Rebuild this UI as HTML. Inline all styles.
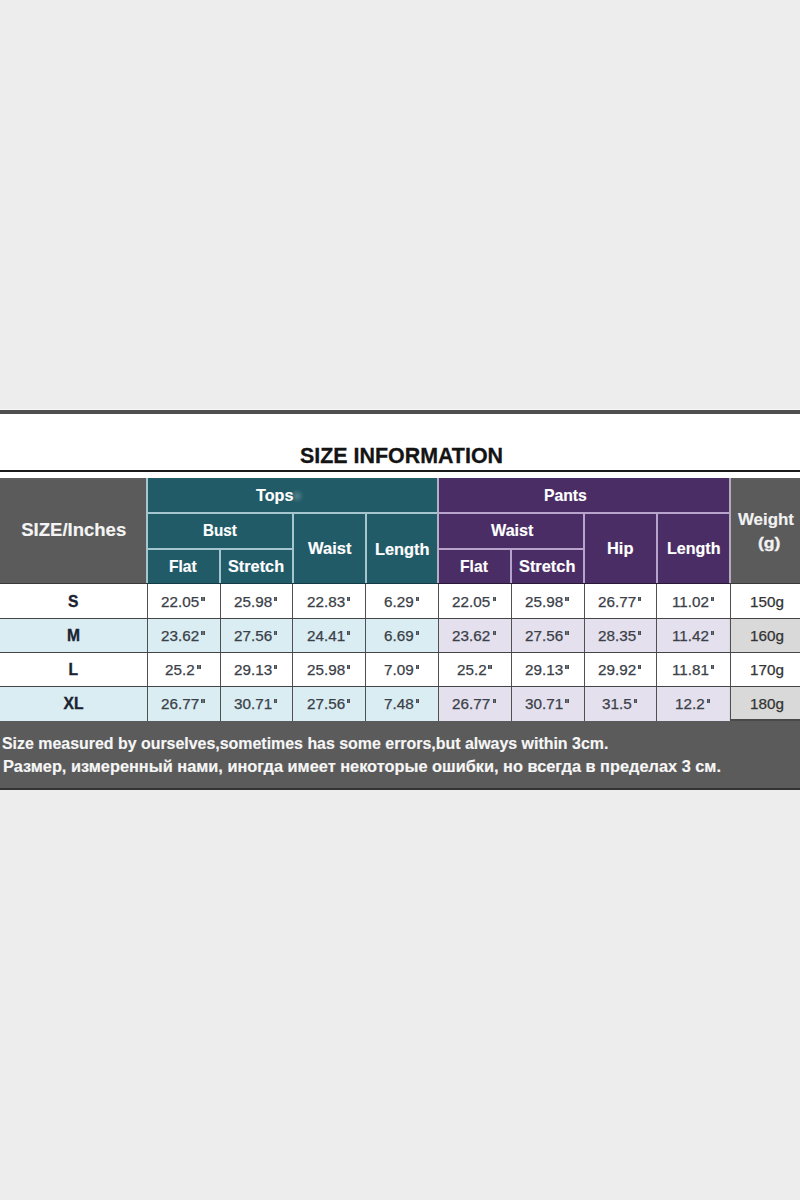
<!DOCTYPE html><html><head><meta charset="utf-8"><style>
html,body{margin:0;padding:0;}
body{width:800px;height:1200px;position:relative;overflow:hidden;background:#ededed;font-family:"Liberation Sans",sans-serif;}
div{box-sizing:border-box}
</style></head><body><div style="position:absolute;left:0px;top:409px;width:800px;height:1px;background:#f8f8f8"></div>
<div style="position:absolute;left:0px;top:410px;width:800px;height:4px;background:#4f4f4f"></div>
<div style="position:absolute;left:0px;top:414px;width:800px;height:307px;background:#ffffff"></div>
<div style="position:absolute;left:0px;top:470px;width:800px;height:2px;background:#1a1a1a"></div>
<div style="position:absolute;left:0px;top:478px;width:147px;height:106px;background:#5b5b5b"></div>
<div style="position:absolute;left:147px;top:478px;width:291px;height:106px;background:#215b67"></div>
<div style="position:absolute;left:438px;top:478px;width:291px;height:106px;background:#4a2d65"></div>
<div style="position:absolute;left:729px;top:478px;width:71px;height:106px;background:#5b5b5b"></div>
<div style="position:absolute;left:0px;top:618px;width:438px;height:34px;background:#d9edf2"></div>
<div style="position:absolute;left:438px;top:618px;width:291px;height:34px;background:#e4e0ee"></div>
<div style="position:absolute;left:729px;top:618px;width:71px;height:34px;background:#d9d9d9"></div>
<div style="position:absolute;left:0px;top:686px;width:438px;height:35px;background:#d9edf2"></div>
<div style="position:absolute;left:438px;top:686px;width:291px;height:35px;background:#e4e0ee"></div>
<div style="position:absolute;left:729px;top:686px;width:71px;height:35px;background:#d9d9d9"></div>
<div style="position:absolute;left:146px;top:478px;width:2px;height:106px;background:#a6c6cf"></div>
<div style="position:absolute;left:148px;top:512px;width:290px;height:2px;background:#a6c6cf"></div>
<div style="position:absolute;left:148px;top:548px;width:144px;height:2px;background:#a6c6cf"></div>
<div style="position:absolute;left:219px;top:549px;width:2px;height:35px;background:#a6c6cf"></div>
<div style="position:absolute;left:292px;top:513px;width:1.5px;height:71px;background:#a6c6cf"></div>
<div style="position:absolute;left:365px;top:513px;width:1.5px;height:71px;background:#a6c6cf"></div>
<div style="position:absolute;left:437px;top:478px;width:2px;height:106px;background:#b6aec6"></div>
<div style="position:absolute;left:439px;top:512px;width:290px;height:2px;background:#b7a3cc"></div>
<div style="position:absolute;left:439px;top:548px;width:145px;height:2px;background:#b7a3cc"></div>
<div style="position:absolute;left:510px;top:549px;width:2px;height:35px;background:#b7a3cc"></div>
<div style="position:absolute;left:583px;top:513px;width:2px;height:71px;background:#b7a3cc"></div>
<div style="position:absolute;left:656px;top:513px;width:1.5px;height:71px;background:#b7a3cc"></div>
<div style="position:absolute;left:729px;top:478px;width:2px;height:106px;background:#b3aabb"></div>
<div style="position:absolute;left:147px;top:583px;width:291px;height:1px;background:#143c44"></div>
<div style="position:absolute;left:438px;top:583px;width:291px;height:1px;background:#2a1a3a"></div>
<div style="position:absolute;left:0px;top:583px;width:147px;height:1px;background:#3a3a3a"></div>
<div style="position:absolute;left:729px;top:583px;width:71px;height:1px;background:#3a3a3a"></div>
<div style="position:absolute;left:147px;top:584px;width:1px;height:137px;background:#505050"></div>
<div style="position:absolute;left:220px;top:584px;width:1px;height:137px;background:#505050"></div>
<div style="position:absolute;left:292px;top:584px;width:1px;height:137px;background:#505050"></div>
<div style="position:absolute;left:365px;top:584px;width:1px;height:137px;background:#505050"></div>
<div style="position:absolute;left:438px;top:584px;width:1px;height:137px;background:#505050"></div>
<div style="position:absolute;left:511px;top:584px;width:1px;height:137px;background:#505050"></div>
<div style="position:absolute;left:584px;top:584px;width:1px;height:137px;background:#505050"></div>
<div style="position:absolute;left:656px;top:584px;width:1px;height:137px;background:#505050"></div>
<div style="position:absolute;left:730px;top:584px;width:1px;height:137px;background:#505050"></div>
<div style="position:absolute;left:0px;top:618px;width:800px;height:1px;background:#454545"></div>
<div style="position:absolute;left:0px;top:652px;width:800px;height:1px;background:#454545"></div>
<div style="position:absolute;left:0px;top:686px;width:800px;height:1px;background:#454545"></div>
<div style="position:absolute;left:730px;top:719px;width:70px;height:2px;background:#4a4a4a"></div>
<div style="position:absolute;left:0px;top:721px;width:800px;height:68px;background:#5b5b5b"></div>
<div style="position:absolute;left:0px;top:788px;width:800px;height:2px;background:#333"></div>
<div style="position:absolute;left:290px;top:489px;width:14px;height:14px;border-radius:50%;background:radial-gradient(circle,rgba(200,220,225,0.28) 0%,rgba(200,220,225,0) 70%)"></div>
<div style="position:absolute;left:299.59px;top:444.59px;font-size:21.16px;line-height:21.16px;font-weight:bold;color:#141414;white-space:nowrap;transform-origin:0 0;transform:scaleX(1.0121);-webkit-text-stroke:0.3px #141414">SIZE INFORMATION</div>
<div style="position:absolute;left:21.20px;top:521.10px;font-size:18.55px;line-height:18.55px;font-weight:bold;color:#f4f4f4;white-space:nowrap;transform-origin:0 0;transform:scaleX(1.0000);-webkit-text-stroke:0.15px #f4f4f4">SIZE/Inches</div>
<div style="position:absolute;left:255.60px;top:487.09px;font-size:16.2px;line-height:16.2px;font-weight:bold;color:#ffffff;white-space:nowrap;transform-origin:0 0;transform:scaleX(0.9973);-webkit-text-stroke:0.15px #ffffff">Tops</div>
<div style="position:absolute;left:543.78px;top:487.09px;font-size:16.2px;line-height:16.2px;font-weight:bold;color:#ffffff;white-space:nowrap;transform-origin:0 0;transform:scaleX(0.9726);-webkit-text-stroke:0.15px #ffffff">Pants</div>
<div style="position:absolute;left:203.46px;top:521.59px;font-size:16.2px;line-height:16.2px;font-weight:bold;color:#ffffff;white-space:nowrap;transform-origin:0 0;transform:scaleX(0.9386);-webkit-text-stroke:0.15px #ffffff">Bust</div>
<div style="position:absolute;left:490.60px;top:521.59px;font-size:16.2px;line-height:16.2px;font-weight:bold;color:#ffffff;white-space:nowrap;transform-origin:0 0;transform:scaleX(0.9976);-webkit-text-stroke:0.15px #ffffff">Waist</div>
<div style="position:absolute;left:307.50px;top:540.49px;font-size:16.2px;line-height:16.2px;font-weight:bold;color:#ffffff;white-space:nowrap;transform-origin:0 0;transform:scaleX(1.0190);-webkit-text-stroke:0.15px #ffffff">Waist</div>
<div style="position:absolute;left:374.99px;top:540.59px;font-size:16.2px;line-height:16.2px;font-weight:bold;color:#ffffff;white-space:nowrap;transform-origin:0 0;transform:scaleX(1.0115);-webkit-text-stroke:0.15px #ffffff">Length</div>
<div style="position:absolute;left:607.39px;top:540.49px;font-size:16.2px;line-height:16.2px;font-weight:bold;color:#ffffff;white-space:nowrap;transform-origin:0 0;transform:scaleX(1.0140);-webkit-text-stroke:0.15px #ffffff">Hip</div>
<div style="position:absolute;left:666.91px;top:540.49px;font-size:16.2px;line-height:16.2px;font-weight:bold;color:#ffffff;white-space:nowrap;transform-origin:0 0;transform:scaleX(0.9923);-webkit-text-stroke:0.15px #ffffff">Length</div>
<div style="position:absolute;left:738.25px;top:510.79px;font-size:16.2px;line-height:16.2px;font-weight:bold;color:#f2f2f2;white-space:nowrap;transform-origin:0 0;transform:scaleX(1.0425);-webkit-text-stroke:0.15px #f2f2f2">Weight</div>
<div style="position:absolute;left:169.19px;top:558.34px;font-size:16.2px;line-height:16.2px;font-weight:bold;color:#ffffff;white-space:nowrap;transform-origin:0 0;transform:scaleX(0.9625);-webkit-text-stroke:0.15px #ffffff">Flat</div>
<div style="position:absolute;left:228.09px;top:558.34px;font-size:16.2px;line-height:16.2px;font-weight:bold;color:#ffffff;white-space:nowrap;transform-origin:0 0;transform:scaleX(1.0056);-webkit-text-stroke:0.15px #ffffff">Stretch</div>
<div style="position:absolute;left:460.43px;top:558.09px;font-size:16.2px;line-height:16.2px;font-weight:bold;color:#ffffff;white-space:nowrap;transform-origin:0 0;transform:scaleX(0.9679);-webkit-text-stroke:0.15px #ffffff">Flat</div>
<div style="position:absolute;left:518.99px;top:558.09px;font-size:16.2px;line-height:16.2px;font-weight:bold;color:#ffffff;white-space:nowrap;transform-origin:0 0;transform:scaleX(1.0111);-webkit-text-stroke:0.15px #ffffff">Stretch</div>
<div style="position:absolute;left:2.38px;top:735.99px;font-size:15.6px;line-height:15.6px;font-weight:bold;color:#f6f6f6;white-space:nowrap;transform-origin:0 0;transform:scaleX(1.0213);-webkit-text-stroke:0.15px #f6f6f6">Size measured by ourselves,sometimes has some errors,but always within 3cm.</div>
<div style="position:absolute;left:3.05px;top:759.29px;font-size:15.6px;line-height:15.6px;font-weight:bold;color:#f6f6f6;white-space:nowrap;transform-origin:0 0;transform:scaleX(1.0482);-webkit-text-stroke:0.15px #f6f6f6">Размер, измеренный нами, иногда имеет некоторые ошибки, но всегда в пределах 3 см.</div>
<div style="position:absolute;left:758.23px;top:534.80px;font-size:15px;line-height:15px;font-weight:bold;color:#f2f2f2;white-space:nowrap;transform-origin:0 0;transform:scaleX(1.1722);-webkit-text-stroke:0.3px #f2f2f2">(g)</div>
<div style="position:absolute;left:68.00px;top:593.79px;font-size:15.6px;line-height:15.6px;font-weight:bold;color:#1b2331;white-space:nowrap;transform-origin:0 0;transform:scaleX(1.0000);-webkit-text-stroke:0.35px #1b2331">S</div>
<div style="position:absolute;left:161.22px;top:595.23px;font-size:14.5px;line-height:14.5px;font-weight:normal;color:#3b4048;white-space:nowrap;transform-origin:0 0;transform:scaleX(1.0500);-webkit-text-stroke:0.25px #3b4048">22.05</div>
<div style="position:absolute;left:201.33px;top:597.00px;width:3.4px;height:3.8px;border-left:1.4px solid #4a4d52;border-right:1.4px solid #4a4d52;background:#6a6d72"></div>
<div style="position:absolute;left:233.97px;top:595.23px;font-size:14.5px;line-height:14.5px;font-weight:normal;color:#3b4048;white-space:nowrap;transform-origin:0 0;transform:scaleX(1.0500);-webkit-text-stroke:0.25px #3b4048">25.98</div>
<div style="position:absolute;left:274.07px;top:597.00px;width:3.4px;height:3.8px;border-left:1.4px solid #4a4d52;border-right:1.4px solid #4a4d52;background:#6a6d72"></div>
<div style="position:absolute;left:306.72px;top:595.23px;font-size:14.5px;line-height:14.5px;font-weight:normal;color:#3b4048;white-space:nowrap;transform-origin:0 0;transform:scaleX(1.0500);-webkit-text-stroke:0.25px #3b4048">22.83</div>
<div style="position:absolute;left:346.82px;top:597.00px;width:3.4px;height:3.8px;border-left:1.4px solid #4a4d52;border-right:1.4px solid #4a4d52;background:#6a6d72"></div>
<div style="position:absolute;left:383.93px;top:595.23px;font-size:14.5px;line-height:14.5px;font-weight:normal;color:#3b4048;white-space:nowrap;transform-origin:0 0;transform:scaleX(1.0500);-webkit-text-stroke:0.25px #3b4048">6.29</div>
<div style="position:absolute;left:415.63px;top:597.00px;width:3.4px;height:3.8px;border-left:1.4px solid #4a4d52;border-right:1.4px solid #4a4d52;background:#6a6d72"></div>
<div style="position:absolute;left:452.47px;top:595.23px;font-size:14.5px;line-height:14.5px;font-weight:normal;color:#3b4048;white-space:nowrap;transform-origin:0 0;transform:scaleX(1.0500);-webkit-text-stroke:0.25px #3b4048">22.05</div>
<div style="position:absolute;left:492.57px;top:597.00px;width:3.4px;height:3.8px;border-left:1.4px solid #4a4d52;border-right:1.4px solid #4a4d52;background:#6a6d72"></div>
<div style="position:absolute;left:525.23px;top:595.23px;font-size:14.5px;line-height:14.5px;font-weight:normal;color:#3b4048;white-space:nowrap;transform-origin:0 0;transform:scaleX(1.0500);-webkit-text-stroke:0.25px #3b4048">25.98</div>
<div style="position:absolute;left:565.32px;top:597.00px;width:3.4px;height:3.8px;border-left:1.4px solid #4a4d52;border-right:1.4px solid #4a4d52;background:#6a6d72"></div>
<div style="position:absolute;left:597.98px;top:595.23px;font-size:14.5px;line-height:14.5px;font-weight:normal;color:#3b4048;white-space:nowrap;transform-origin:0 0;transform:scaleX(1.0500);-webkit-text-stroke:0.25px #3b4048">26.77</div>
<div style="position:absolute;left:638.07px;top:597.00px;width:3.4px;height:3.8px;border-left:1.4px solid #4a4d52;border-right:1.4px solid #4a4d52;background:#6a6d72"></div>
<div style="position:absolute;left:671.50px;top:595.23px;font-size:14.5px;line-height:14.5px;font-weight:normal;color:#3b4048;white-space:nowrap;transform-origin:0 0;transform:scaleX(1.0500);-webkit-text-stroke:0.25px #3b4048">11.02</div>
<div style="position:absolute;left:710.55px;top:597.00px;width:3.4px;height:3.8px;border-left:1.4px solid #4a4d52;border-right:1.4px solid #4a4d52;background:#6a6d72"></div>
<div style="position:absolute;left:750.20px;top:595.23px;font-size:14.5px;line-height:14.5px;font-weight:normal;color:#333;white-space:nowrap;transform-origin:0 0;transform:scaleX(1.0500);-webkit-text-stroke:0.25px #333">150g</div>
<div style="position:absolute;left:67.00px;top:627.79px;font-size:15.6px;line-height:15.6px;font-weight:bold;color:#1b2331;white-space:nowrap;transform-origin:0 0;transform:scaleX(1.0000);-webkit-text-stroke:0.35px #1b2331">M</div>
<div style="position:absolute;left:161.22px;top:629.23px;font-size:14.5px;line-height:14.5px;font-weight:normal;color:#3b4048;white-space:nowrap;transform-origin:0 0;transform:scaleX(1.0500);-webkit-text-stroke:0.25px #3b4048">23.62</div>
<div style="position:absolute;left:201.33px;top:631.00px;width:3.4px;height:3.8px;border-left:1.4px solid #4a4d52;border-right:1.4px solid #4a4d52;background:#6a6d72"></div>
<div style="position:absolute;left:233.97px;top:629.23px;font-size:14.5px;line-height:14.5px;font-weight:normal;color:#3b4048;white-space:nowrap;transform-origin:0 0;transform:scaleX(1.0500);-webkit-text-stroke:0.25px #3b4048">27.56</div>
<div style="position:absolute;left:274.07px;top:631.00px;width:3.4px;height:3.8px;border-left:1.4px solid #4a4d52;border-right:1.4px solid #4a4d52;background:#6a6d72"></div>
<div style="position:absolute;left:306.72px;top:629.23px;font-size:14.5px;line-height:14.5px;font-weight:normal;color:#3b4048;white-space:nowrap;transform-origin:0 0;transform:scaleX(1.0500);-webkit-text-stroke:0.25px #3b4048">24.41</div>
<div style="position:absolute;left:346.82px;top:631.00px;width:3.4px;height:3.8px;border-left:1.4px solid #4a4d52;border-right:1.4px solid #4a4d52;background:#6a6d72"></div>
<div style="position:absolute;left:383.93px;top:629.23px;font-size:14.5px;line-height:14.5px;font-weight:normal;color:#3b4048;white-space:nowrap;transform-origin:0 0;transform:scaleX(1.0500);-webkit-text-stroke:0.25px #3b4048">6.69</div>
<div style="position:absolute;left:415.63px;top:631.00px;width:3.4px;height:3.8px;border-left:1.4px solid #4a4d52;border-right:1.4px solid #4a4d52;background:#6a6d72"></div>
<div style="position:absolute;left:452.47px;top:629.23px;font-size:14.5px;line-height:14.5px;font-weight:normal;color:#3b4048;white-space:nowrap;transform-origin:0 0;transform:scaleX(1.0500);-webkit-text-stroke:0.25px #3b4048">23.62</div>
<div style="position:absolute;left:492.57px;top:631.00px;width:3.4px;height:3.8px;border-left:1.4px solid #4a4d52;border-right:1.4px solid #4a4d52;background:#6a6d72"></div>
<div style="position:absolute;left:525.23px;top:629.23px;font-size:14.5px;line-height:14.5px;font-weight:normal;color:#3b4048;white-space:nowrap;transform-origin:0 0;transform:scaleX(1.0500);-webkit-text-stroke:0.25px #3b4048">27.56</div>
<div style="position:absolute;left:565.32px;top:631.00px;width:3.4px;height:3.8px;border-left:1.4px solid #4a4d52;border-right:1.4px solid #4a4d52;background:#6a6d72"></div>
<div style="position:absolute;left:597.98px;top:629.23px;font-size:14.5px;line-height:14.5px;font-weight:normal;color:#3b4048;white-space:nowrap;transform-origin:0 0;transform:scaleX(1.0500);-webkit-text-stroke:0.25px #3b4048">28.35</div>
<div style="position:absolute;left:638.07px;top:631.00px;width:3.4px;height:3.8px;border-left:1.4px solid #4a4d52;border-right:1.4px solid #4a4d52;background:#6a6d72"></div>
<div style="position:absolute;left:671.50px;top:629.23px;font-size:14.5px;line-height:14.5px;font-weight:normal;color:#3b4048;white-space:nowrap;transform-origin:0 0;transform:scaleX(1.0500);-webkit-text-stroke:0.25px #3b4048">11.42</div>
<div style="position:absolute;left:710.55px;top:631.00px;width:3.4px;height:3.8px;border-left:1.4px solid #4a4d52;border-right:1.4px solid #4a4d52;background:#6a6d72"></div>
<div style="position:absolute;left:750.20px;top:629.23px;font-size:14.5px;line-height:14.5px;font-weight:normal;color:#333;white-space:nowrap;transform-origin:0 0;transform:scaleX(1.0500);-webkit-text-stroke:0.25px #333">160g</div>
<div style="position:absolute;left:68.50px;top:661.79px;font-size:15.6px;line-height:15.6px;font-weight:bold;color:#1b2331;white-space:nowrap;transform-origin:0 0;transform:scaleX(1.0000);-webkit-text-stroke:0.35px #1b2331">L</div>
<div style="position:absolute;left:165.42px;top:663.23px;font-size:14.5px;line-height:14.5px;font-weight:normal;color:#3b4048;white-space:nowrap;transform-origin:0 0;transform:scaleX(1.0500);-webkit-text-stroke:0.25px #3b4048">25.2</div>
<div style="position:absolute;left:197.12px;top:665.00px;width:3.4px;height:3.8px;border-left:1.4px solid #4a4d52;border-right:1.4px solid #4a4d52;background:#6a6d72"></div>
<div style="position:absolute;left:233.97px;top:663.23px;font-size:14.5px;line-height:14.5px;font-weight:normal;color:#3b4048;white-space:nowrap;transform-origin:0 0;transform:scaleX(1.0500);-webkit-text-stroke:0.25px #3b4048">29.13</div>
<div style="position:absolute;left:274.07px;top:665.00px;width:3.4px;height:3.8px;border-left:1.4px solid #4a4d52;border-right:1.4px solid #4a4d52;background:#6a6d72"></div>
<div style="position:absolute;left:306.72px;top:663.23px;font-size:14.5px;line-height:14.5px;font-weight:normal;color:#3b4048;white-space:nowrap;transform-origin:0 0;transform:scaleX(1.0500);-webkit-text-stroke:0.25px #3b4048">25.98</div>
<div style="position:absolute;left:346.82px;top:665.00px;width:3.4px;height:3.8px;border-left:1.4px solid #4a4d52;border-right:1.4px solid #4a4d52;background:#6a6d72"></div>
<div style="position:absolute;left:383.93px;top:663.23px;font-size:14.5px;line-height:14.5px;font-weight:normal;color:#3b4048;white-space:nowrap;transform-origin:0 0;transform:scaleX(1.0500);-webkit-text-stroke:0.25px #3b4048">7.09</div>
<div style="position:absolute;left:415.63px;top:665.00px;width:3.4px;height:3.8px;border-left:1.4px solid #4a4d52;border-right:1.4px solid #4a4d52;background:#6a6d72"></div>
<div style="position:absolute;left:456.68px;top:663.23px;font-size:14.5px;line-height:14.5px;font-weight:normal;color:#3b4048;white-space:nowrap;transform-origin:0 0;transform:scaleX(1.0500);-webkit-text-stroke:0.25px #3b4048">25.2</div>
<div style="position:absolute;left:488.38px;top:665.00px;width:3.4px;height:3.8px;border-left:1.4px solid #4a4d52;border-right:1.4px solid #4a4d52;background:#6a6d72"></div>
<div style="position:absolute;left:525.23px;top:663.23px;font-size:14.5px;line-height:14.5px;font-weight:normal;color:#3b4048;white-space:nowrap;transform-origin:0 0;transform:scaleX(1.0500);-webkit-text-stroke:0.25px #3b4048">29.13</div>
<div style="position:absolute;left:565.32px;top:665.00px;width:3.4px;height:3.8px;border-left:1.4px solid #4a4d52;border-right:1.4px solid #4a4d52;background:#6a6d72"></div>
<div style="position:absolute;left:597.98px;top:663.23px;font-size:14.5px;line-height:14.5px;font-weight:normal;color:#3b4048;white-space:nowrap;transform-origin:0 0;transform:scaleX(1.0500);-webkit-text-stroke:0.25px #3b4048">29.92</div>
<div style="position:absolute;left:638.07px;top:665.00px;width:3.4px;height:3.8px;border-left:1.4px solid #4a4d52;border-right:1.4px solid #4a4d52;background:#6a6d72"></div>
<div style="position:absolute;left:671.50px;top:663.23px;font-size:14.5px;line-height:14.5px;font-weight:normal;color:#3b4048;white-space:nowrap;transform-origin:0 0;transform:scaleX(1.0500);-webkit-text-stroke:0.25px #3b4048">11.81</div>
<div style="position:absolute;left:710.55px;top:665.00px;width:3.4px;height:3.8px;border-left:1.4px solid #4a4d52;border-right:1.4px solid #4a4d52;background:#6a6d72"></div>
<div style="position:absolute;left:750.20px;top:663.23px;font-size:14.5px;line-height:14.5px;font-weight:normal;color:#333;white-space:nowrap;transform-origin:0 0;transform:scaleX(1.0500);-webkit-text-stroke:0.25px #333">170g</div>
<div style="position:absolute;left:63.50px;top:695.79px;font-size:15.6px;line-height:15.6px;font-weight:bold;color:#1b2331;white-space:nowrap;transform-origin:0 0;transform:scaleX(1.0000);-webkit-text-stroke:0.35px #1b2331">XL</div>
<div style="position:absolute;left:161.22px;top:697.23px;font-size:14.5px;line-height:14.5px;font-weight:normal;color:#3b4048;white-space:nowrap;transform-origin:0 0;transform:scaleX(1.0500);-webkit-text-stroke:0.25px #3b4048">26.77</div>
<div style="position:absolute;left:201.33px;top:699.00px;width:3.4px;height:3.8px;border-left:1.4px solid #4a4d52;border-right:1.4px solid #4a4d52;background:#6a6d72"></div>
<div style="position:absolute;left:233.97px;top:697.23px;font-size:14.5px;line-height:14.5px;font-weight:normal;color:#3b4048;white-space:nowrap;transform-origin:0 0;transform:scaleX(1.0500);-webkit-text-stroke:0.25px #3b4048">30.71</div>
<div style="position:absolute;left:274.07px;top:699.00px;width:3.4px;height:3.8px;border-left:1.4px solid #4a4d52;border-right:1.4px solid #4a4d52;background:#6a6d72"></div>
<div style="position:absolute;left:306.72px;top:697.23px;font-size:14.5px;line-height:14.5px;font-weight:normal;color:#3b4048;white-space:nowrap;transform-origin:0 0;transform:scaleX(1.0500);-webkit-text-stroke:0.25px #3b4048">27.56</div>
<div style="position:absolute;left:346.82px;top:699.00px;width:3.4px;height:3.8px;border-left:1.4px solid #4a4d52;border-right:1.4px solid #4a4d52;background:#6a6d72"></div>
<div style="position:absolute;left:383.93px;top:697.23px;font-size:14.5px;line-height:14.5px;font-weight:normal;color:#3b4048;white-space:nowrap;transform-origin:0 0;transform:scaleX(1.0500);-webkit-text-stroke:0.25px #3b4048">7.48</div>
<div style="position:absolute;left:415.63px;top:699.00px;width:3.4px;height:3.8px;border-left:1.4px solid #4a4d52;border-right:1.4px solid #4a4d52;background:#6a6d72"></div>
<div style="position:absolute;left:452.47px;top:697.23px;font-size:14.5px;line-height:14.5px;font-weight:normal;color:#3b4048;white-space:nowrap;transform-origin:0 0;transform:scaleX(1.0500);-webkit-text-stroke:0.25px #3b4048">26.77</div>
<div style="position:absolute;left:492.57px;top:699.00px;width:3.4px;height:3.8px;border-left:1.4px solid #4a4d52;border-right:1.4px solid #4a4d52;background:#6a6d72"></div>
<div style="position:absolute;left:525.23px;top:697.23px;font-size:14.5px;line-height:14.5px;font-weight:normal;color:#3b4048;white-space:nowrap;transform-origin:0 0;transform:scaleX(1.0500);-webkit-text-stroke:0.25px #3b4048">30.71</div>
<div style="position:absolute;left:565.32px;top:699.00px;width:3.4px;height:3.8px;border-left:1.4px solid #4a4d52;border-right:1.4px solid #4a4d52;background:#6a6d72"></div>
<div style="position:absolute;left:602.18px;top:697.23px;font-size:14.5px;line-height:14.5px;font-weight:normal;color:#3b4048;white-space:nowrap;transform-origin:0 0;transform:scaleX(1.0500);-webkit-text-stroke:0.25px #3b4048">31.5</div>
<div style="position:absolute;left:633.88px;top:699.00px;width:3.4px;height:3.8px;border-left:1.4px solid #4a4d52;border-right:1.4px solid #4a4d52;background:#6a6d72"></div>
<div style="position:absolute;left:675.18px;top:697.23px;font-size:14.5px;line-height:14.5px;font-weight:normal;color:#3b4048;white-space:nowrap;transform-origin:0 0;transform:scaleX(1.0500);-webkit-text-stroke:0.25px #3b4048">12.2</div>
<div style="position:absolute;left:706.88px;top:699.00px;width:3.4px;height:3.8px;border-left:1.4px solid #4a4d52;border-right:1.4px solid #4a4d52;background:#6a6d72"></div>
<div style="position:absolute;left:750.20px;top:697.23px;font-size:14.5px;line-height:14.5px;font-weight:normal;color:#333;white-space:nowrap;transform-origin:0 0;transform:scaleX(1.0500);-webkit-text-stroke:0.25px #333">180g</div></body></html>
